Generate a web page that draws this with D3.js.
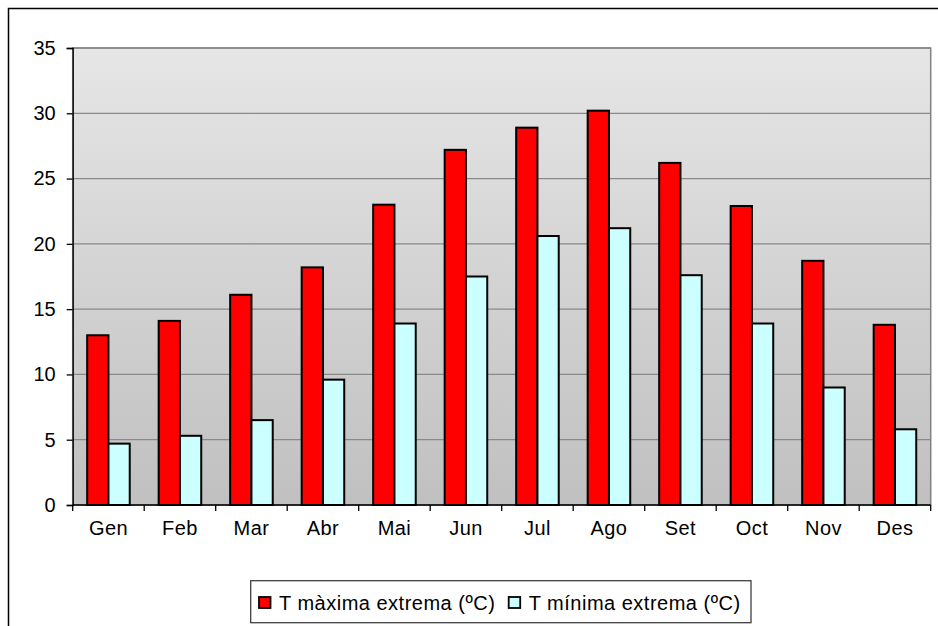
<!DOCTYPE html>
<html>
<head>
<meta charset="utf-8">
<script src="https://cdn.jsdelivr.net/npm/d3@7"></script>
<style>
  body { margin: 0; background: #fff; }
  svg { display: block; font-family: Arial, "Liberation Sans", sans-serif; }
</style>
</head>
<body>
<div id="chart"></div>
<script>
var months = ["Gen", "Feb", "Mar", "Abr", "Mai", "Jun", "Jul", "Ago", "Set", "Oct", "Nov", "Des"];
var tMax = [13.0, 14.1, 16.1, 18.2, 23.0, 27.2, 28.9, 30.2, 26.2, 22.9, 18.7, 13.8];
var tMin = [4.7, 5.3, 6.5, 9.6, 13.9, 17.5, 20.6, 21.2, 17.6, 13.9, 9.0, 5.8];
var seriesNames = ["T màxima extrema (ºC)", "T mínima extrema (ºC)"];
var yTicks = [0, 5, 10, 15, 20, 25, 30, 35];

var width = 938, height = 626;
var plotLeft = 72.7, plotRight = 930.7, plotTop = 48, plotBottom = 505;
var colors = ["#ff0000", "#ccffff"];

var svg = d3.select("#chart").append("svg")
    .attr("width", width)
    .attr("height", height);

// outer frame (runs off the right and bottom of the picture)
svg.append("rect")
    .attr("x", 8.5).attr("y", 8.5)
    .attr("width", 940).attr("height", 630)
    .attr("fill", "#fff")
    .attr("stroke", "#000")
    .attr("stroke-width", 1.5);

var defs = svg.append("defs");
var grad = defs.append("linearGradient")
    .attr("id", "bg").attr("x1", 0).attr("y1", 0).attr("x2", 0).attr("y2", 1);
grad.append("stop").attr("offset", "0%").attr("stop-color", "#e6e6e6");
grad.append("stop").attr("offset", "100%").attr("stop-color", "#c0c0c0");

var x = d3.scaleBand().domain(months).range([plotLeft, plotRight]).padding(0);
var x1 = d3.scaleBand().domain([0, 1]).range([0, x.bandwidth()]).paddingInner(0).paddingOuter(0.68);
var y = d3.scaleLinear().domain([0, 35]).range([plotBottom, plotTop]);

svg.append("rect")
    .attr("x", plotLeft).attr("y", plotTop)
    .attr("width", plotRight - plotLeft).attr("height", plotBottom - plotTop)
    .attr("fill", "url(#bg)")
    .attr("stroke", "#808080")
    .attr("stroke-width", 1.5);

// gridlines
svg.selectAll(".grid").data(yTicks.slice(1)).enter().append("line")
    .attr("x1", plotLeft).attr("x2", plotRight)
    .attr("y1", function(d){ return y(d); })
    .attr("y2", function(d){ return y(d); })
    .attr("stroke", "#8a8a8a")
    .attr("stroke-width", 1.3);

// bars
var data = months.map(function(m, i){ return {month: m, vals: [tMax[i], tMin[i]]}; });
var groups = svg.selectAll(".grp").data(data).enter().append("g")
    .attr("transform", function(d){ return "translate(" + x(d.month) + ",0)"; });
groups.selectAll("rect").data(function(d){ return d.vals; }).enter().append("rect")
    .attr("x", function(d, i){ return x1(i); })
    .attr("width", x1.bandwidth())
    .attr("y", function(d){ return y(d); })
    .attr("height", function(d){ return plotBottom - y(d); })
    .attr("fill", function(d, i){ return colors[i]; })
    .attr("stroke", "#000")
    .attr("stroke-width", 2);

// y axis
var yAxis = d3.axisLeft(y).tickValues(yTicks).tickSize(6).tickPadding(11);
var yg = svg.append("g").attr("transform", "translate(" + plotLeft + ",0)").call(yAxis);
yg.select(".domain").attr("stroke", "#000").attr("stroke-width", 1.3);
yg.selectAll(".tick line").attr("stroke", "#000").attr("stroke-width", 1.3);
yg.selectAll("text").attr("font-size", 20).attr("fill", "#000")
    .attr("font-family", "Arial, 'Liberation Sans', sans-serif");

// x axis
var xAxis = d3.axisBottom(x).tickSize(0).tickPadding(16);
var xg = svg.append("g").attr("transform", "translate(0," + plotBottom + ")").call(xAxis);
xg.select(".domain").remove();
xg.selectAll("text").attr("font-size", 20).attr("fill", "#000")
    .attr("letter-spacing", 0.4)
    .attr("font-family", "Arial, 'Liberation Sans', sans-serif");
svg.append("line")
    .attr("x1", plotLeft).attr("x2", plotRight)
    .attr("y1", plotBottom).attr("y2", plotBottom)
    .attr("stroke", "#000").attr("stroke-width", 1.3);
var bounds = months.map(function(m){ return x(m); }).concat([plotRight]);
svg.selectAll(".xtick").data(bounds).enter().append("line")
    .attr("x1", function(d){ return d; }).attr("x2", function(d){ return d; })
    .attr("y1", plotBottom).attr("y2", plotBottom + 6)
    .attr("stroke", "#000").attr("stroke-width", 1.3);

// legend
var lg = svg.append("g");
lg.append("rect")
    .attr("x", 250.7).attr("y", 580.7)
    .attr("width", 500.3).attr("height", 42)
    .attr("fill", "#fff")
    .attr("stroke", "#404040")
    .attr("stroke-width", 1.3);
var legendX = [259, 508.7];
seriesNames.forEach(function(name, i){
    lg.append("rect")
        .attr("x", legendX[i]).attr("y", 597)
        .attr("width", 11.5).attr("height", 11)
        .attr("fill", colors[i])
        .attr("stroke", "#000")
        .attr("stroke-width", 1.8);
    lg.append("text")
        .attr("x", legendX[i] + 20).attr("y", 609.5)
        .attr("font-size", 20)
        .attr("letter-spacing", 0.5)
        .attr("fill", "#000")
        .text(name);
});
</script>
</body>
</html>
